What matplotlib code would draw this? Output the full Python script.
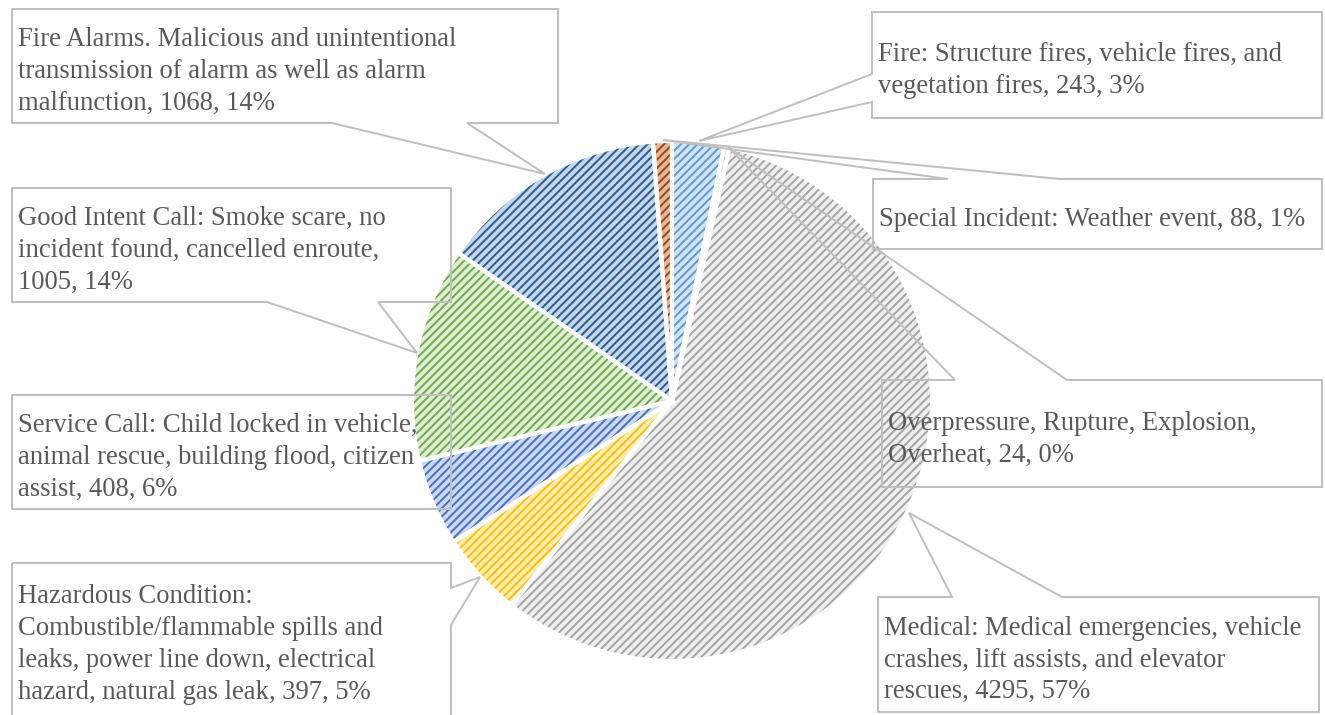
import matplotlib
matplotlib.use("Agg")
import matplotlib.pyplot as plt
from matplotlib.patches import Polygon

# ---------------- data ----------------
categories = [
    "Fire: Structure fires, vehicle fires, and\nvegetation fires",
    "Overpressure, Rupture, Explosion,\nOverheat",
    "Medical: Medical emergencies, vehicle\ncrashes, lift assists, and elevator\nrescues",
    "Hazardous Condition:\nCombustible/flammable spills and\nleaks, power line down, electrical\nhazard, natural gas leak",
    "Service Call: Child locked in vehicle,\nanimal rescue, building flood, citizen\nassist",
    "Good Intent Call: Smoke scare, no\nincident found, cancelled enroute,\n",
    "Fire Alarms. Malicious and unintentional\ntransmission of alarm as well as alarm\nmalfunction",
    "Special Incident: Weather event",
]
values = [243, 24, 4295, 397, 408, 1005, 1068, 88]
percent_labels = [3, 0, 57, 5, 6, 14, 14, 1]

base_colors = ["#5B9BD5", "#ED7D31", "#A5A5A5", "#FFC000",
               "#4472C4", "#70AD47", "#255E91", "#9E480E"]
light_colors = ["#D3E3F4", "#F8D2B8", "#EFEFEF", "#FFEDB5",
                "#CCD8F0", "#E0EDD6", "#C6D6E8", "#E2B79C"]

# ---------------- layout (pixels, y down) ----------------
W, H = 1325, 715
fig = plt.figure(figsize=(W / 100, H / 100), dpi=100)
ax = fig.add_axes([0, 0, 1, 1])

def Y(y):
    return H - y

cx, cy, R = 672, 401, 260

plt.rcParams['hatch.linewidth'] = 1.4

# background fill
ax.pie(values, startangle=90, counterclock=False, center=(cx, Y(cy)), radius=R,
       colors=light_colors, wedgeprops=dict(linewidth=0, edgecolor="none"))
# hatch layer
w2, _ = ax.pie(values, startangle=90, counterclock=False, center=(cx, Y(cy)), radius=R,
               wedgeprops=dict(linewidth=0))
for w, c in zip(w2, base_colors):
    w.set_facecolor("none")
    w.set_edgecolor(c)
    w.set_hatch("////")
    w.set_linewidth(0)
# white separators
ax.pie(values, startangle=90, counterclock=False, center=(cx, Y(cy)), radius=R,
       wedgeprops=dict(linewidth=3, edgecolor="white", facecolor="none"))

# callout boxes: (x0, y0, x1, y1, side, base1, base2, tip)
boxes = [
    (872, 12, 1322, 118, "left", 74, 102, (699, 141)),
    (882, 380, 1322, 487, "top", 955, 1067, (728, 147)),
    (878, 597, 1319, 712, "top", 952, 1062, (909, 513)),
    (12, 563, 451, 720, "right", 588, 625, (480, 577)),
    (12, 395, 451, 509, None, None, None, None),
    (12, 188, 451, 302, "bottom", 267, 378, (417, 353)),
    (12, 9, 558, 123, "bottom", 332, 467, (545, 174)),
    (873, 179, 1322, 249, "top", 948, 1060, (663, 140)),
]

def callout(x0, y0, x1, y1, side, b1, b2, tip):
    pts = [(x0, y0)]
    if side == "top":
        pts += [(b1, y0), tip, (b2, y0)]
    pts.append((x1, y0))
    if side == "right":
        pts += [(x1, b1), tip, (x1, b2)]
    pts.append((x1, y1))
    if side == "bottom":
        pts += [(b2, y1), tip, (b1, y1)]
    pts.append((x0, y1))
    if side == "left":
        pts += [(x0, b2), tip, (x0, b1)]
    return [(x, Y(y)) for x, y in pts]

for (x0, y0, x1, y1, side, b1, b2, tip), cat, v, p in zip(boxes, categories, values, percent_labels):
    poly = Polygon(callout(x0, y0, x1, y1, side, b1, b2, tip), closed=True,
                   facecolor="none", edgecolor="#BFBFBF", linewidth=1.4, zorder=5)
    ax.add_patch(poly)
    sep = "" if cat.endswith("\n") else ", "
    txt = f"{cat}{sep}{v}, {p}%"
    ax.text(x0 + 6, Y((y0 + min(y1, 715)) / 2 + 5.5), txt, ha="left", va="center",
            fontsize=19.2, family="Liberation Serif", color="#595959",
            linespacing=1.36, zorder=6)

ax.set_xlim(0, W)
ax.set_ylim(0, H)
ax.set_aspect("equal")
ax.axis("off")
fig.savefig("out.png", dpi=100, facecolor="white")
